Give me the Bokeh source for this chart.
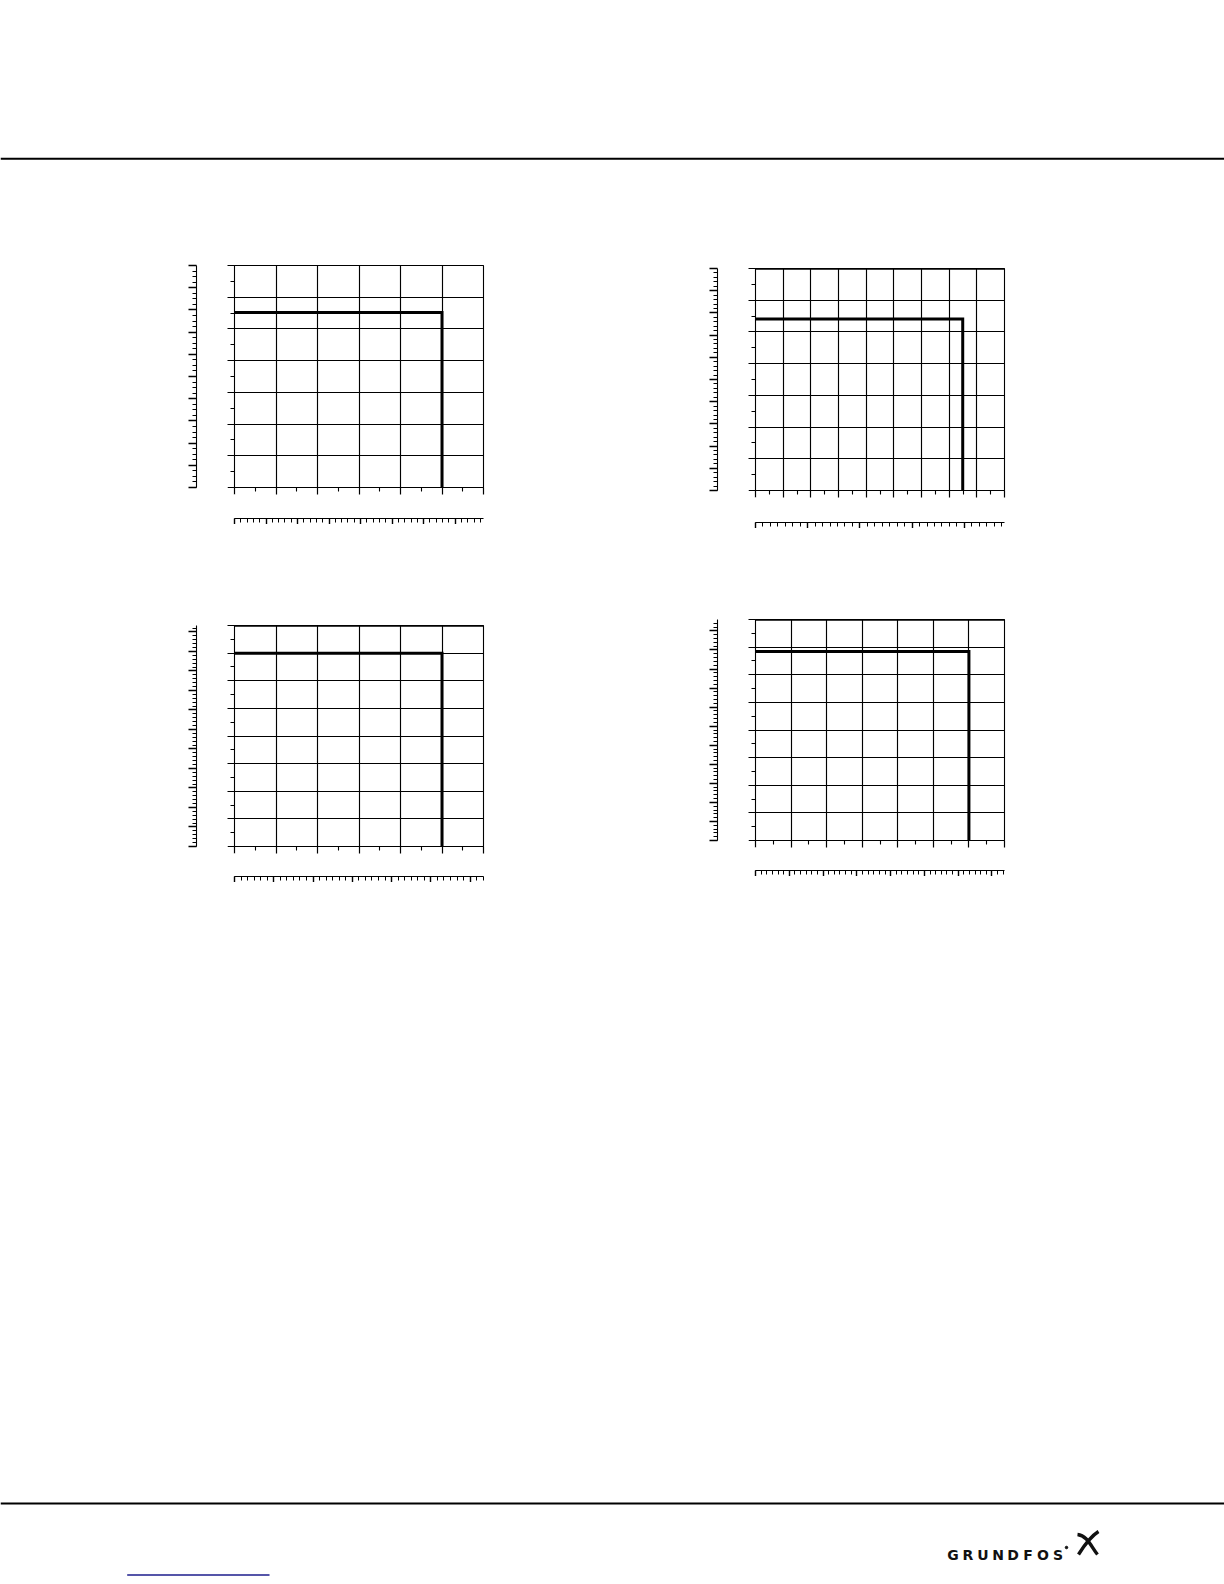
import numpy as np
from bokeh.plotting import figure
from bokeh.models import Range1d, LinearAxis, FixedTicker, Span, Spacer
from bokeh.layouts import row, column
from bokeh.embed import file_html
from bokeh.resources import INLINE
from bokeh.core.properties import value

# ---------------- data ----------------
# Chart 1 (top left)
c1_x_ticks = [0, 10, 20, 30, 40, 50, 60]
c1_y_ticks = [0, 10, 20, 30, 40, 50, 60, 70]
c1_curve_x = [0, 50, 50]
c1_curve_y = [55.2, 55.2, 0]
c1_aux_y_max = 10.0
c1_aux_y_sub = 4
c1_aux_x_max = 7.9
c1_aux_x_sub = 5

# Chart 2 (top right)
c2_x_ticks = [0, 10, 20, 30, 40, 50, 60, 70, 80, 90]
c2_y_ticks = [0, 10, 20, 30, 40, 50, 60, 70]
c2_curve_x = [0, 74.9, 74.9]
c2_curve_y = [54.1, 54.1, 0]
c2_aux_y_max = 10.0
c2_aux_y_sub = 5
c2_aux_x_max = 4.77
c2_aux_x_sub = 7

# Chart 3 (bottom left)
c3_x_ticks = [0, 10, 20, 30, 40, 50, 60]
c3_y_ticks = [0, 10, 20, 30, 40, 50, 60, 70, 80]
c3_curve_x = [0, 50, 50]
c3_curve_y = [70, 70, 0]
c3_aux_y_max = 11.33
c3_aux_y_sub = 5
c3_aux_x_max = 6.34
c3_aux_x_sub = 6

# Chart 4 (bottom right)
c4_x_ticks = [0, 10, 20, 30, 40, 50, 60, 70]
c4_y_ticks = [0, 10, 20, 30, 40, 50, 60, 70, 80]
c4_curve_x = [0, 60, 60]
c4_curve_y = [68.4, 68.4, 0]
c4_aux_y_max = 11.6
c4_aux_y_sub = 5
c4_aux_x_max = 7.37
c4_aux_x_sub = 6

logo_letters = list("GRUNDFOS")

# ---------------- layout constants ----------------
PAGE_W = 1224
HEAD_H = 258
MID_GAP = 82
FOOT_H = 700
FRAME_W = 249
LEFT_PAD = 188
COL_GAP = 220
MAIN_TICK = 7
LEFT_GAP = 38
AUX_Y_TICK = 8
AUX_X_TICK = 6
RIGHT_PAD = 6


def midpoints(t):
    return [(a + b) / 2.0 for a, b in zip(t[:-1], t[1:])]


def style_main_axis(ax):
    ax.axis_line_color = "black"
    ax.axis_line_width = 1
    ax.major_tick_line_color = "black"
    ax.minor_tick_line_color = "black"
    ax.major_tick_line_width = 1.2
    ax.minor_tick_line_width = 1.1
    ax.major_tick_out = MAIN_TICK
    ax.major_tick_in = 0
    ax.minor_tick_out = 4
    ax.minor_tick_in = 0
    ax.major_label_text_color = None
    ax.major_label_standoff = 0


def gap_axis(size, ticks):
    # invisible axis that only reserves room between the two scales
    ax = LinearAxis(ticker=FixedTicker(ticks=ticks[:1], minor_ticks=[]))
    ax.axis_line_color = None
    ax.major_tick_line_color = "white"
    ax.major_tick_out = size
    ax.major_tick_in = 0
    ax.minor_tick_out = 0
    ax.minor_tick_in = 0
    ax.major_label_text_color = None
    ax.major_label_standoff = 0
    return ax


def style_aux_axis(ax, major_out, minor_out):
    ax.axis_line_color = "black"
    ax.axis_line_width = 1.1
    ax.major_tick_line_color = "black"
    ax.minor_tick_line_color = "black"
    ax.major_tick_line_width = 1.4
    ax.minor_tick_line_width = 1
    ax.major_tick_out = major_out
    ax.major_tick_in = 0
    ax.minor_tick_out = minor_out
    ax.minor_tick_in = 0
    ax.major_label_text_color = None
    ax.major_label_standoff = 0


def make_chart(x_ticks, y_ticks, curve_x, curve_y, aux_y_max, aux_y_sub,
               aux_x_max, aux_x_sub, frame_h, border_top, bottom_gap,
               thick_top, slot_h):
    width = LEFT_GAP + AUX_Y_TICK + FRAME_W + RIGHT_PAD
    height = border_top + frame_h + bottom_gap + AUX_X_TICK
    p = figure(width=width, height=height,
               x_range=Range1d(x_ticks[0], x_ticks[-1]),
               y_range=Range1d(y_ticks[0], y_ticks[-1]),
               toolbar_location=None, output_backend="svg",
               min_border_left=0, min_border_right=RIGHT_PAD,
               min_border_top=border_top, min_border_bottom=0)
    p.background_fill_color = "white"
    p.border_fill_color = "white"
    p.outline_line_color = "black"
    p.outline_line_width = 1.1
    p.outline_line_alpha = 1

    p.xaxis.ticker = FixedTicker(ticks=x_ticks, minor_ticks=midpoints(x_ticks))
    p.yaxis.ticker = FixedTicker(ticks=y_ticks, minor_ticks=midpoints(y_ticks))
    p.xgrid.ticker = FixedTicker(ticks=x_ticks)
    p.ygrid.ticker = FixedTicker(ticks=y_ticks)
    p.grid.grid_line_color = "black"
    p.grid.grid_line_width = 1.15
    p.grid.grid_line_alpha = 1
    style_main_axis(p.xaxis[0])
    style_main_axis(p.yaxis[0])

    # room between the main scales and the converted-unit scales
    p.add_layout(gap_axis(LEFT_GAP - MAIN_TICK, y_ticks), "left")
    p.add_layout(gap_axis(bottom_gap - MAIN_TICK, x_ticks), "below")

    # secondary (converted-unit) scales
    p.extra_y_ranges = {"aux_y": Range1d(0, aux_y_max)}
    p.extra_x_ranges = {"aux_x": Range1d(0, aux_x_max)}
    ay_major = [float(v) for v in np.arange(0, aux_y_max + 1e-9, 1.0)]
    ay_minor = [float(v) for v in np.arange(0, aux_y_max - 1e-6, 1.0 / aux_y_sub)]
    ax_major = [float(v) for v in np.arange(0, aux_x_max + 1e-9, 1.0)]
    ax_minor = [float(v) for v in np.arange(0, aux_x_max - 1e-6, 1.0 / aux_x_sub)]
    ay = LinearAxis(y_range_name="aux_y",
                    ticker=FixedTicker(ticks=ay_major, minor_ticks=ay_minor))
    style_aux_axis(ay, AUX_Y_TICK, 4)
    p.add_layout(ay, "left")
    axx = LinearAxis(x_range_name="aux_x",
                     ticker=FixedTicker(ticks=ax_major, minor_ticks=ax_minor))
    style_aux_axis(axx, AUX_X_TICK, 4)
    p.add_layout(axx, "below")

    if thick_top:
        p.add_layout(Span(location=y_ticks[-1], dimension="width",
                          line_color="black", line_width=2.4))

    p.line(curve_x, curve_y, line_color="black", line_width=3,
           line_join="miter")

    # pad every chart to the same slot height so rows stay top-aligned
    if slot_h > height:
        return column(p, Spacer(width=width, height=slot_h - height))
    return p


ROW1_H = 272
ROW2_H = 272
f1 = make_chart(c1_x_ticks, c1_y_ticks, c1_curve_x, c1_curve_y, c1_aux_y_max,
                c1_aux_y_sub, c1_aux_x_max, c1_aux_x_sub, 222, 7, 31, False, ROW1_H)
f2 = make_chart(c2_x_ticks, c2_y_ticks, c2_curve_x, c2_curve_y, c2_aux_y_max,
                c2_aux_y_sub, c2_aux_x_max, c2_aux_x_sub, 222, 10, 32, True, ROW1_H)
f3 = make_chart(c3_x_ticks, c3_y_ticks, c3_curve_x, c3_curve_y, c3_aux_y_max,
                c3_aux_y_sub, c3_aux_x_max, c3_aux_x_sub, 221, 13, 30, True, ROW2_H)
f4 = make_chart(c4_x_ticks, c4_y_ticks, c4_curve_x, c4_curve_y, c4_aux_y_max,
                c4_aux_y_sub, c4_aux_x_max, c4_aux_x_sub, 221, 7, 30, True, ROW2_H)

# ---------------- page header ----------------
HEAD_LINE_Y = 158.3
head = figure(width=PAGE_W, height=HEAD_H, x_range=Range1d(0, PAGE_W),
              y_range=Range1d(HEAD_H, 0), toolbar_location=None,
              output_backend="svg", x_axis_location=None,
              y_axis_location=None, min_border=0)
head.grid.visible = False
head.outline_line_color = None
head.add_layout(Span(location=HEAD_LINE_Y, dimension="width",
                     line_color="black", line_width=2))

# ---------------- page footer ----------------
FOOT_LINE_Y = 619
LOGO_X0 = 952.5
LOGO_PITCH = 15.0
LOGO_BASE = 670
foot = figure(width=PAGE_W, height=FOOT_H, x_range=Range1d(0, PAGE_W),
              y_range=Range1d(FOOT_H, 0), toolbar_location=None,
              output_backend="svg", x_axis_location=None,
              y_axis_location=None, min_border=0)
foot.grid.visible = False
foot.outline_line_color = None
foot.add_layout(Span(location=FOOT_LINE_Y, dimension="width",
                     line_color="black", line_width=2.2))
lx = [LOGO_X0 + LOGO_PITCH * i for i in range(len(logo_letters))]
foot.text(x=lx, y=[LOGO_BASE] * len(lx), text=logo_letters,
          text_font=value("DejaVu Sans"), text_font_style="bold",
          text_font_size="14px", text_align="center",
          text_baseline="alphabetic", text_color="#111111")
foot.scatter(x=[1066], y=[663], size=2.5, color="#111111")
foot.bezier(x0=[1077], y0=[650], x1=[1097], y1=[670],
            cx0=[1087], cy0=[651], cx1=[1091], cy1=[663],
            line_color="#111111", line_width=3.4)
foot.bezier(x0=[1078], y0=[670], x1=[1098], y1=[647],
            cx0=[1083], cy0=[662], cx1=[1090], cy1=[652],
            line_color="#111111", line_width=3.4)
foot.segment(x0=[126.7], y0=[690.5], x1=[269], y1=[690.5],
             line_color="#1c1c8c", line_width=1.5)

layout = column(
    head,
    row(Spacer(width=LEFT_PAD, height=5), f1, Spacer(width=COL_GAP, height=5), f2),
    Spacer(width=5, height=MID_GAP),
    row(Spacer(width=LEFT_PAD, height=5), f3, Spacer(width=COL_GAP, height=5), f4),
    foot,
)

open("out.html", "w").write(file_html(layout, INLINE))
